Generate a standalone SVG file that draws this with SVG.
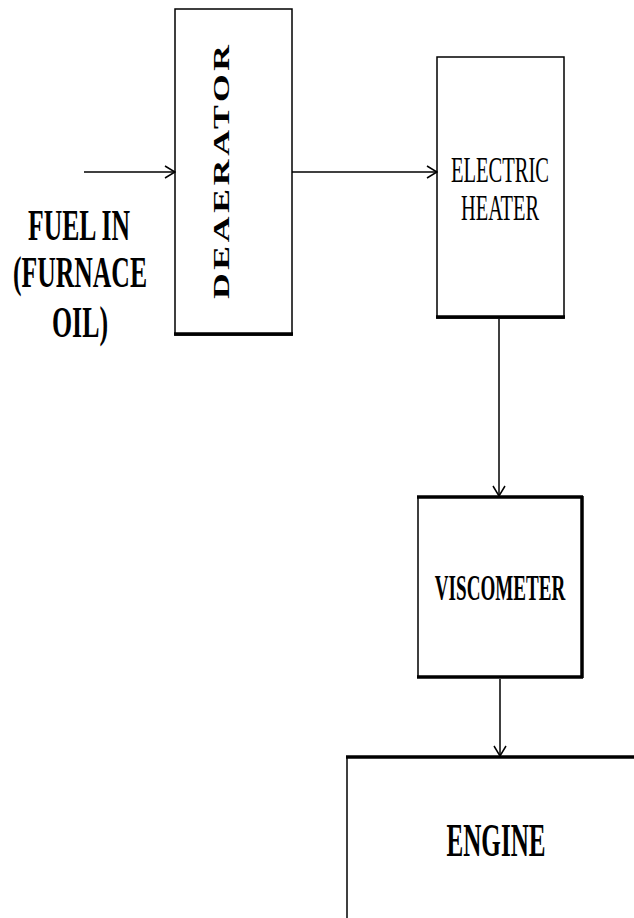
<svg xmlns="http://www.w3.org/2000/svg" width="634" height="918" viewBox="0 0 634 918">
<style>
.box{fill:#fff;stroke:#000;stroke-width:1.5}
.thick{stroke:#000;stroke-width:3.5;fill:none}
.conn{stroke:#000;stroke-width:1.5;fill:none}
.lbl{font-family:"Liberation Serif","Times New Roman",serif;fill:#000}
</style>
<defs>
<marker id="arr" viewBox="0 0 12 14" refX="11" refY="7" markerWidth="12" markerHeight="14" markerUnits="userSpaceOnUse" orient="auto">
<path d="M1,1 L11,7 L1,13" fill="none" stroke="#000" stroke-width="1.5"/>
</marker>
</defs>
<rect width="634" height="918" fill="#fff"/>
<g id="fuel-in">
<text class="lbl" font-weight="bold" font-size="45" text-anchor="middle" x="79" y="240" textLength="102" lengthAdjust="spacingAndGlyphs">FUEL IN</text>
<text class="lbl" font-weight="bold" font-size="45" text-anchor="middle" x="80" y="287" textLength="134" lengthAdjust="spacingAndGlyphs">(FURNACE</text>
<text class="lbl" font-weight="bold" font-size="45" text-anchor="middle" x="80" y="337" textLength="56" lengthAdjust="spacingAndGlyphs">OIL)</text>
</g>
<g id="deaerator">
<rect class="box" x="175" y="9" width="117" height="326"/>
<line class="thick" x1="174" y1="334" x2="293" y2="334"/>
<g transform="translate(229,172) rotate(-90) scale(1.55,1)">
<text class="lbl" font-weight="bold" font-size="23" text-anchor="middle" x="0" y="0" textLength="164" lengthAdjust="spacing">DEAERATOR</text>
</g>
</g>
<g id="electric-heater">
<rect class="box" x="437" y="57" width="127" height="261"/>
<line class="thick" x1="436" y1="317" x2="565" y2="317"/>
<text class="lbl" font-size="35" text-anchor="middle" x="500" y="182" textLength="98" lengthAdjust="spacingAndGlyphs">ELECTRIC</text>
<text class="lbl" font-size="35" text-anchor="middle" x="500" y="220" textLength="78" lengthAdjust="spacingAndGlyphs">HEATER</text>
</g>
<g id="viscometer">
<rect class="box" x="418" y="497" width="164" height="180"/>
<line class="thick" x1="417" y1="497" x2="583" y2="497"/>
<line class="thick" x1="417" y1="677" x2="583" y2="677"/>
<line class="thick" x1="582" y1="496" x2="582" y2="678"/>
<g transform="translate(500,600) scale(0.53,1)">
<text class="lbl" font-weight="bold" font-size="36" text-anchor="middle" x="0" y="0">VISCOMETER</text>
</g>
</g>
<g id="engine">
<line class="conn" x1="347" y1="757" x2="347" y2="918"/>
<line class="thick" x1="346" y1="757" x2="634" y2="757"/>
<text class="lbl" font-weight="bold" font-size="46" text-anchor="middle" x="496" y="856" textLength="99" lengthAdjust="spacingAndGlyphs">ENGINE</text>
</g>
<g id="connectors">
<line class="conn" x1="84" y1="172" x2="175" y2="172" marker-end="url(#arr)"/>
<line class="conn" x1="292" y1="172" x2="437" y2="172" marker-end="url(#arr)"/>
<line class="conn" x1="499" y1="319" x2="499" y2="496" marker-end="url(#arr)"/>
<line class="conn" x1="500" y1="679" x2="500" y2="756" marker-end="url(#arr)"/>
</g>
</svg>
